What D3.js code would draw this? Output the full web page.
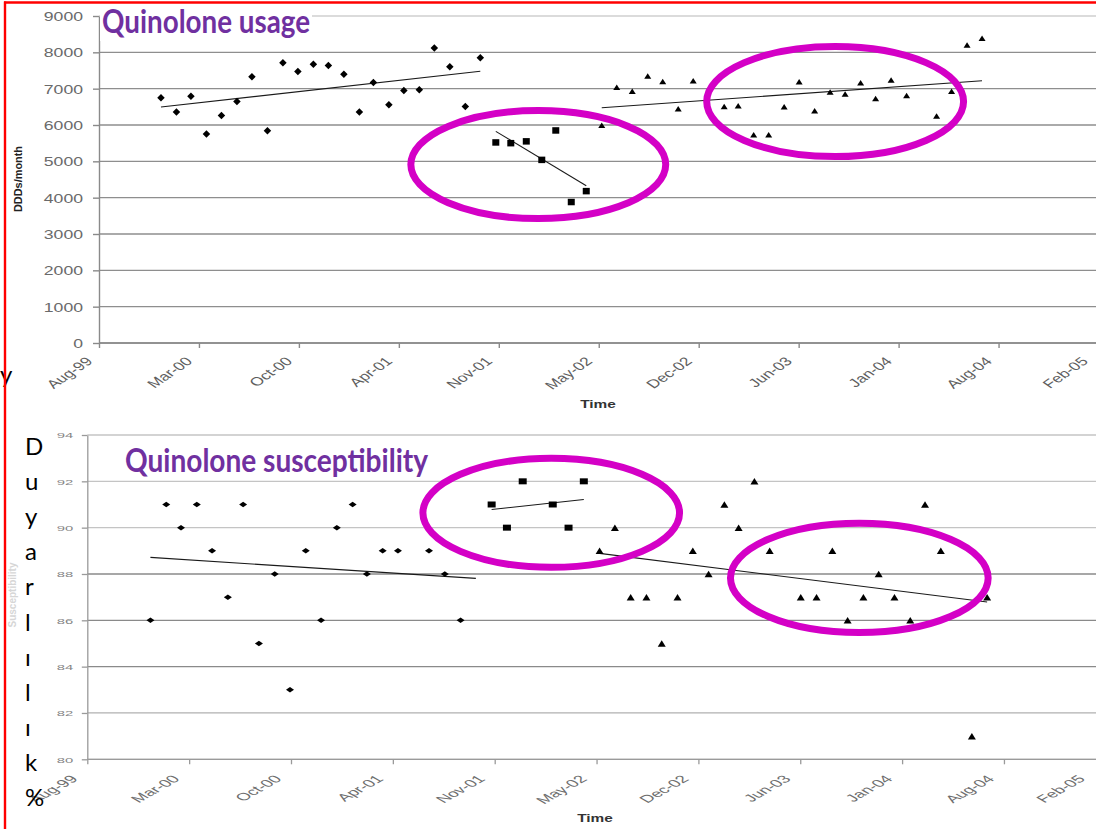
<!DOCTYPE html>
<html>
<head>
<meta charset="utf-8">
<script src="https://cdn.jsdelivr.net/npm/d3@7"></script>
<style>
  html, body { margin: 0; padding: 0; background: #fff; }
  svg { display: block; }
</style>
</head>
<body>
<svg id="fig" width="1096" height="829"></svg>
<script>
// ---------------- data ----------------
// Date axis: ticks every 200 days starting 30 Aug 1999
const axisStart = "1999-08-30";
const tickStepDays = 200;
const tickLabels = ["Aug-99", "Mar-00", "Oct-00", "Apr-01", "Nov-01", "May-02",
                    "Dec-02", "Jun-03", "Jan-04", "Aug-04", "Feb-05"];

const usageTicks = [0, 1000, 2000, 3000, 4000, 5000, 6000, 7000, 8000, 9000];
const suscTicks = [80, 82, 84, 86, 88, 90, 92, 94];

// Three study periods (monthly observations)
const periodA = ["2000-01", "2000-02", "2000-03", "2000-04", "2000-05", "2000-06",
                 "2000-07", "2000-08", "2000-09", "2000-10", "2000-11", "2000-12",
                 "2001-01", "2001-02", "2001-03", "2001-04", "2001-05", "2001-06",
                 "2001-07", "2001-08", "2001-09", "2001-10"];
const periodB = ["2001-11", "2001-12", "2002-01", "2002-02", "2002-03", "2002-04", "2002-05"];
const periodC = ["2002-06", "2002-07", "2002-08", "2002-09", "2002-10", "2002-11",
                 "2002-12", "2003-01", "2003-02", "2003-03", "2003-04", "2003-05",
                 "2003-06", "2003-07", "2003-08", "2003-09", "2003-10", "2003-11",
                 "2003-12", "2004-01", "2004-02", "2004-03", "2004-04", "2004-05",
                 "2004-06", "2004-07"];

// Quinolone usage, DDDs/month
const usageA = [6750, 6360, 6790, 5750, 6260, 6650, 7330, 5840, 7710, 7470, 7670, 7640,
                7400, 6360, 7170, 6560, 6950, 6970, 8120, 7600, 6510, 7850];
const usageB = [5520, 5500, 5550, 5040, 5850, 3880, 4180];
const usageC = [5990, 7040, 6930, 7350, 7200, 6450, 7220, null, 6510, 6530, 5730, 5730,
                6500, 7190, 6390, 6910, 6850, 7160, 6730, 7240, 6810, null, 6250, 6930,
                8200, 8390];

// Quinolone susceptibility, %
const suscA = [86, 91, 90, 91, 89, 87, 91, 85, 88, 83, 89, 86,
               90, 91, 88, 89, 89, null, 89, 88, 86, null];
const suscB = [91, 90, 92, null, 91, 90, 92];
const suscC = [89, 90, 87, 87, 85, 87, 89, 88, 91, 90, 92, 89,
               null, 87, 87, 89, 86, 87, 88, 87, 86, 91, 89, null,
               81, 87];

// Highlight rings (centre date/value, half-extent in days/value units)
const usageRings = [
  { center: "2002-01-25", value: 4910, halfDays: 255, halfValue: 1486 },
  { center: "2003-09-11", value: 6646, halfDays: 257, halfValue: 1514 }
];
const suscRings = [
  { center: "2002-02-26", value: 90.64, halfDays: 252, halfValue: 2.353 },
  { center: "2003-10-24", value: 87.83, halfDays: 253, halfValue: 2.357 }
];

const sideLabel = ["D", "u", "y", "a", "r", "l", "ı", "l", "ı", "k", "%"];

// ---------------- drawing ----------------
const parseMonth = d3.timeParse("%Y-%m");
const parseDay = d3.timeParse("%Y-%m-%d");
const startDate = parseDay(axisStart);
const tickDates = tickLabels.map((_, i) => d3.timeDay.offset(startDate, i * tickStepDays));

const svg = d3.select("#fig");
const W = 1096;
const RING = "#d400c6";

function shapePath(shape, w, h) {
  const p = d3.path();
  if (shape === "diamond") {
    p.moveTo(0, -h / 2); p.lineTo(w / 2, 0); p.lineTo(0, h / 2); p.lineTo(-w / 2, 0);
  } else if (shape === "square") {
    p.rect(-w / 2, -h / 2, w, h);
  } else {
    p.moveTo(0, -h / 2); p.lineTo(w / 2, h / 2); p.lineTo(-w / 2, h / 2);
  }
  p.closePath();
  return p.toString();
}

function fitLine(pts) {
  const mx = d3.mean(pts, d => +d.date), my = d3.mean(pts, d => d.value);
  let sxy = 0, sxx = 0;
  pts.forEach(d => { sxy += (+d.date - mx) * (d.value - my); sxx += (+d.date - mx) ** 2; });
  const slope = sxy / sxx;
  return t => my + slope * (+t - mx);
}

function drawPanel(cfg) {
  const g = svg.append("g");
  const x = d3.scaleTime()
    .domain([tickDates[0], tickDates[tickDates.length - 1]])
    .range([cfg.left, cfg.right]);
  const y = d3.scaleLinear().domain(cfg.yDomain).range([cfg.bottom, cfg.top]);

  // horizontal gridlines
  g.append("g").selectAll("line").data(cfg.yTicks).join("line")
    .attr("x1", cfg.left).attr("x2", W)
    .attr("y1", d => y(d)).attr("y2", d => y(d))
    .attr("stroke", (d, i) => cfg.gridColor(d, i))
    .attr("stroke-width", cfg.gridWidth);

  // y axis
  const yAxis = g.append("g")
    .attr("transform", `translate(${cfg.left},0)`)
    .call(d3.axisLeft(y).tickValues(cfg.yTicks).tickFormat(d3.format("d"))
      .tickSize(cfg.yTickLen).tickSizeOuter(0));
  yAxis.select(".domain").attr("stroke", cfg.axisColor).attr("stroke-width", cfg.gridWidth);
  yAxis.selectAll(".tick line").attr("stroke", cfg.axisColor).attr("stroke-width", cfg.gridWidth);
  yAxis.selectAll(".tick text")
    .attr("x", 0).attr("dy", "0.36em")
    .attr("transform", `translate(${cfg.yLabelDx},0) scale(${cfg.yLabelSx},1)`)
    .attr("text-anchor", "end")
    .attr("font-family", "'Liberation Sans', Arial, sans-serif")
    .attr("font-size", cfg.yLabelSize)
    .attr("fill", cfg.labelColor);

  // x axis
  const xAxis = g.append("g")
    .attr("transform", `translate(0,${cfg.bottom})`)
    .call(d3.axisBottom(x).tickValues(tickDates)
      .tickFormat((d, i) => tickLabels[i]).tickSize(5).tickSizeOuter(0));
  xAxis.select(".domain").attr("stroke", cfg.axisColor).attr("stroke-width", cfg.gridWidth)
    .attr("d", `M${cfg.left},0H${W}`);
  xAxis.selectAll(".tick line").attr("stroke", cfg.axisColor).attr("stroke-width", cfg.gridWidth);
  xAxis.selectAll(".tick text")
    .attr("y", 0).attr("dy", 0)
    .attr("transform", `translate(${cfg.xLabelDx},${cfg.xLabelDy}) scale(${cfg.xLabelSx},1) rotate(-45)`)
    .attr("text-anchor", "end")
    .attr("font-family", "'Liberation Sans', Arial, sans-serif")
    .attr("font-size", cfg.xLabelSize)
    .attr("fill", cfg.xLabelColor);

  // keep the last date labels inside the drawing
  xAxis.selectAll(".tick").each(function () {
    const tick = d3.select(this);
    const box = this.getBoundingClientRect();
    const over = box.right - (W - 1);
    if (over > 0) {
      const txt = tick.select("text");
      txt.attr("transform", `translate(${cfg.xLabelDx - over},${cfg.xLabelDy}) scale(${cfg.xLabelSx},1) rotate(-45)`);
    }
  });

  // "Time" caption
  g.append("text")
    .attr("transform", `translate(${cfg.timeX},${cfg.timeY}) scale(1.4,1)`)
    .attr("text-anchor", "middle")
    .attr("font-family", "'Liberation Sans', Arial, sans-serif")
    .attr("font-weight", "bold").attr("font-size", 11)
    .attr("fill", "#333").text("Time");

  // series: trend lines then markers
  cfg.series.forEach(s => {
    const rows = s.months.map((m, i) => ({ date: parseMonth(m), value: s.values[i] }));
    const pts = rows.filter(d => d.value != null);
    const f = fitLine(pts);
    const t0 = rows[0].date, t1 = rows[rows.length - 1].date;
    g.append("line")
      .attr("x1", x(t0)).attr("y1", y(f(t0)))
      .attr("x2", x(t1)).attr("y2", y(f(t1)))
      .attr("stroke", "#1a1a1a").attr("stroke-width", 1.1);
    g.append("g").selectAll("path").data(pts).join("path")
      .attr("d", shapePath(s.shape, s.w, s.h))
      .attr("transform", d => `translate(${x(d.date)},${y(d.value)})`)
      .attr("fill", "#000");
  });

  // highlight rings
  cfg.rings.forEach(r => {
    const c = parseDay(r.center);
    const cx = x(c), cy = y(r.value);
    g.append("ellipse")
      .attr("cx", cx).attr("cy", cy)
      .attr("rx", x(d3.timeDay.offset(c, r.halfDays)) - cx)
      .attr("ry", y(r.value - r.halfValue) - cy)
      .attr("fill", "none").attr("stroke", RING).attr("stroke-width", 7);
  });

  // panel title
  const title = g.append("text")
    .attr("x", cfg.titleX).attr("y", cfg.titleY)
    .attr("font-family", "Lato, 'Open Sans', sans-serif")
    .attr("font-weight", "bold").attr("font-size", 32)
    .attr("fill", "#7030a0")
    .attr("textLength", cfg.titleLen).attr("lengthAdjust", "spacingAndGlyphs")
    .text(cfg.title);
  if (cfg.titleBox) {
    const bb = title.node().getBBox();
    g.insert("rect", () => title.node())
      .attr("x", bb.x - 2).attr("y", bb.y - 1)
      .attr("width", bb.width + 4).attr("height", bb.height + 2)
      .attr("fill", "#fff");
  }
  return g;
}

// Top panel: usage
drawPanel({
  yDomain: [0, 9000], yTicks: usageTicks,
  left: 99, right: 1098.5, top: 16, bottom: 343,
  gridColor: d => d === 9000 ? "#cfcfcf" : "#8e8e8e", gridWidth: 1.4,
  axisColor: "#8a8a8a", labelColor: "#6a6a6a", xLabelColor: "#5e5e5e",
  yTickLen: 6, yLabelDx: -16, yLabelSx: 1.4, yLabelSize: 12.6,
  xLabelDx: -6, xLabelDy: 19, xLabelSx: 1.45, xLabelSize: 12,
  timeX: 598, timeY: 408,
  series: [
    { months: periodA, values: usageA, shape: "diamond", w: 7.5, h: 7.5 },
    { months: periodB, values: usageB, shape: "square", w: 7, h: 6.5 },
    { months: periodC, values: usageC, shape: "triangle", w: 7, h: 5.5 }
  ],
  rings: usageRings,
  title: "Quinolone usage", titleX: 102, titleY: 33, titleLen: 208, titleBox: true
});

// Bottom panel: susceptibility
drawPanel({
  yDomain: [80, 94], yTicks: suscTicks,
  left: 87.3, right: 1105.8, top: 435, bottom: 759.3,
  gridColor: d => d >= 90 ? "#c4c4c4" : (d >= 84 ? "#8a8a8a" : "#b0b0b0"), gridWidth: 1.3,
  axisColor: "#9a9a9a", labelColor: "#858585", xLabelColor: "#6e6e6e",
  yTickLen: 5.5, yLabelDx: -14, yLabelSx: 1.85, yLabelSize: 8,
  xLabelDx: -9, xLabelDy: 20.4, xLabelSx: 1.78, xLabelSize: 10.5,
  timeX: 595, timeY: 821.5,
  series: [
    { months: periodA, values: suscA, shape: "diamond", w: 8, h: 5.5 },
    { months: periodB, values: suscB, shape: "square", w: 8, h: 6 },
    { months: periodC, values: suscC, shape: "triangle", w: 8, h: 6.5 }
  ],
  rings: suscRings,
  title: "Quinolone susceptibility", titleX: 125, titleY: 472, titleLen: 303, titleBox: false
});

// y-axis title of the usage panel
svg.append("text")
  .attr("transform", "translate(18.5,179) rotate(-90)")
  .attr("text-anchor", "middle").attr("dy", "0.35em")
  .attr("font-family", "'Liberation Sans Narrow', 'Liberation Sans', Arial, sans-serif")
  .attr("font-weight", "bold").attr("font-size", 11)
  .attr("textLength", 66).attr("lengthAdjust", "spacingAndGlyphs")
  .attr("fill", "#222").text("DDDs/month");

// faint y-axis title of the susceptibility panel
svg.append("text")
  .attr("transform", "translate(12,595) rotate(-90)")
  .attr("text-anchor", "middle").attr("dy", "0.35em")
  .attr("font-family", "'Liberation Sans', Arial, sans-serif")
  .attr("font-weight", "bold").attr("font-size", 10)
  .attr("fill", "#d6d6d6").text("Susceptibility");

// stacked Turkish side label
svg.append("g").selectAll("text").data(sideLabel).join("text")
  .attr("x", 25).attr("y", (d, i) => 455 + i * 35.1)
  .attr("font-family", "Lato, 'Open Sans', sans-serif")
  .attr("font-size", 24).attr("fill", "#000")
  .text(d => d);

svg.append("text")
  .attr("x", 0).attr("y", 383)
  .attr("font-family", "Lato, 'Open Sans', sans-serif")
  .attr("font-size", 24).attr("fill", "#000").text("y");

// red frame
svg.append("line").attr("x1", 4).attr("x2", W).attr("y1", 2.5).attr("y2", 2.5)
  .attr("stroke", "#ff0000").attr("stroke-width", 2.6);
svg.append("line").attr("x1", 5).attr("x2", 5).attr("y1", 1.5).attr("y2", 829)
  .attr("stroke", "#ff0000").attr("stroke-width", 2.4);
</script>
</body>
</html>
